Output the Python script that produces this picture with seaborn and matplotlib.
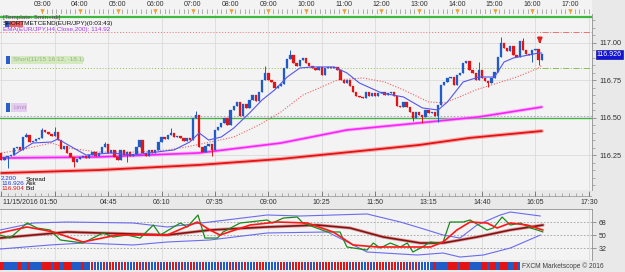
import numpy as np
import matplotlib
matplotlib.use('Agg')
import matplotlib.pyplot as plt
import seaborn as sns
from matplotlib.patches import Rectangle
import matplotlib.ticker as mticker

sns.set_theme(style='white')
plt.rcParams['font.family'] = ['Liberation Sans', 'DejaVu Sans']

W, H = 625, 272

# EUR/JPY 5 min candles, 01:55 .. 16:15 (time in minutes after midnight)
first_open = 116.267
closes = [116.220, 116.240, 116.247, 116.253, 116.300, 116.307, 116.287, 116.373, 116.387, 116.340,
          116.347, 116.360, 116.367, 116.420, 116.407, 116.393, 116.380, 116.407, 116.353, 116.293,
          116.313, 116.267, 116.240, 116.207, 116.227, 116.240, 116.247, 116.233, 116.253, 116.273,
          116.247, 116.267, 116.307, 116.327, 116.267, 116.287, 116.240, 116.220, 116.287, 116.253,
          116.273, 116.247, 116.260, 116.307, 116.353, 116.267, 116.247, 116.287, 116.267, 116.287,
          116.340, 116.373, 116.360, 116.387, 116.400, 116.373, 116.380, 116.367, 116.347, 116.367,
          116.353, 116.500, 116.520, 116.307, 116.273, 116.313, 116.327, 116.287, 116.420, 116.440,
          116.467, 116.500, 116.453, 116.553, 116.580, 116.607, 116.513, 116.593, 116.567, 116.620,
          116.653, 116.613, 116.673, 116.753, 116.800, 116.753, 116.740, 116.700, 116.713, 116.727,
          116.833, 116.893, 116.920, 116.867, 116.847, 116.887, 116.900, 116.867, 116.847, 116.833,
          116.820, 116.840, 116.787, 116.833, 116.840, 116.833, 116.840, 116.820, 116.753, 116.733,
          116.753, 116.713, 116.673, 116.647, 116.640, 116.633, 116.673, 116.647, 116.667, 116.647,
          116.667, 116.673, 116.653, 116.667, 116.673, 116.647, 116.580, 116.573, 116.607, 116.573,
          116.540, 116.500, 116.540, 116.520, 116.507, 116.553, 116.533, 116.540, 116.513, 116.587,
          116.720, 116.740, 116.767, 116.773, 116.720, 116.787, 116.800, 116.867, 116.880, 116.820,
          116.800, 116.753, 116.820, 116.767, 116.747, 116.733, 116.767, 116.807, 116.907, 117.000,
          116.967, 116.947, 116.980, 116.920, 116.907, 117.013, 116.953, 116.927, 116.920, 116.953,
          116.960, 116.887, 116.926]
# long wicks (candle index: price)
wick_high = {8: 116.400, 13: 116.433, 17: 116.440, 33: 116.340, 54: 116.433, 62: 116.547, 84: 116.847,
             92: 116.953, 152: 116.873, 159: 117.040, 166: 117.033}
wick_low = {2: 116.167, 23: 116.173, 40: 116.207, 67: 116.247, 131: 116.480, 134: 116.467, 139: 116.473,
            155: 116.707, 169: 116.873, 171: 116.853}

# moving averages on the price panel
fast_t = [135, 165, 195, 205, 230, 250, 290, 325, 350, 390, 415, 430, 445, 465, 485, 510, 530, 550,
          570, 590, 610, 645, 665, 685, 720, 755, 785, 810, 825, 850, 875, 900, 915, 930, 970, 975]
fast_ma = [116.253, 116.333, 116.340, 116.360, 116.300, 116.253, 116.267, 116.253, 116.267, 116.287,
           116.340, 116.400, 116.353, 116.373, 116.433, 116.533, 116.620, 116.687, 116.773, 116.833,
           116.840, 116.840, 116.800, 116.733, 116.667, 116.640, 116.567, 116.553, 116.607, 116.740,
           116.773, 116.773, 116.873, 116.900, 116.933, 116.933]
slow_t = [115, 145, 195, 220, 270, 335, 380, 410, 440, 485, 525, 560, 595, 650, 690, 725, 755, 795,
          820, 840, 870, 905, 935, 970, 975]
slow_ma = [116.267, 116.287, 116.333, 116.300, 116.273, 116.273, 116.287, 116.307, 116.333, 116.373,
           116.453, 116.540, 116.653, 116.753, 116.767, 116.740, 116.687, 116.607, 116.600, 116.633,
           116.687, 116.733, 116.773, 116.833, 116.853]
ema_h1_t = [115, 270, 430, 560, 665, 780, 875, 975]
ema_h1 = [116.233, 116.240, 116.267, 116.333, 116.420, 116.467, 116.507, 116.573]
ema_h4_t = [115, 270, 430, 560, 670, 780, 860, 975]
ema_h4 = [116.133, 116.153, 116.187, 116.227, 116.273, 116.320, 116.367, 116.413]

# order levels
level_top = 117.173
level_stop = 117.073
level_entry = 116.833
level_limit = 116.513
level_green = 116.500
ask, bid, spread = 116.926, 116.904, 2.200

# TDI panel
rsi_t = [113, 129, 156, 172, 193, 209, 245, 277, 293, 315, 336, 357, 368, 400, 411, 428, 439, 459, 468, 495,
         538, 546, 564, 586, 595, 634, 654, 665, 697, 707, 718, 734, 750, 761, 770, 782, 798, 809, 818, 829,
         850, 861, 888, 898, 912, 925, 941, 957, 968, 977]
rsi = [50.0, 45.8, 66.6, 59.7, 56.9, 43.1, 38.9, 52.8, 47.2, 50.0, 45.8, 63.8, 50.0, 66.6, 61.1, 77.7, 45.8,
       45.8, 54.2, 66.6, 70.8, 66.6, 73.5, 74.9, 66.6, 54.2, 54.2, 33.4, 29.2, 38.9, 32.0, 38.9, 33.4, 38.9,
       26.5, 32.0, 40.3, 38.9, 40.3, 68.0, 68.0, 70.8, 56.9, 59.7, 74.9, 63.8, 66.6, 59.7, 56.9, 54.2]
sig_t = [113, 156, 198, 245, 299, 379, 427, 447, 463, 511, 554, 602, 643, 675, 713, 750, 782, 798, 818, 840,
         861, 888, 904, 925, 952, 977]
sig = [52.8, 61.1, 54.2, 40.3, 50.0, 50.0, 68.0, 56.9, 50.0, 63.8, 68.0, 66.6, 54.2, 36.2, 33.4, 33.4, 33.4,
       33.4, 40.3, 56.9, 68.0, 66.6, 59.7, 66.6, 63.8, 56.9]
base_t = [113, 220, 272, 379, 447, 538, 618, 670, 723, 782, 818, 872, 925, 977]
base = [45.8, 54.2, 52.8, 50.0, 56.9, 61.1, 63.8, 59.7, 47.2, 38.9, 38.9, 47.2, 56.9, 63.8]
up_t = [113, 166, 220, 325, 379, 447, 538, 591, 697, 750, 782, 818, 845, 872, 909, 925, 973]
up_band = [56.9, 66.6, 68.0, 66.6, 61.1, 68.0, 77.7, 76.3, 79.1, 68.0, 59.7, 50.0, 45.8, 63.8, 77.7, 81.8, 76.3]
lo_t = [113, 193, 245, 325, 379, 447, 538, 634, 697, 777, 818, 845, 882, 925, 973]
lo_band = [30.6, 36.2, 38.9, 36.2, 40.3, 43.1, 52.8, 54.2, 26.5, 22.3, 25.1, 19.5, 22.3, 32.0, 50.0]
tdi_levels = [32, 50, 68]

bottom_labels = ['04:45', '06:10', '07:35', '09:00', '10:25', '11:50', '13:15', '14:40', '16:05', '17:30']

BG = '#e9e9e9'
PANEL = '#f3f3f3'
GRID = '#dadada'
BLUE = '#1f5cc8'
RED = '#e41414'
T0, T1 = 113, 1055

fig = plt.figure(figsize=(W / 100, H / 100), dpi=100, facecolor=BG)


def px_axes(x0, y0, x1, y1):
    a = fig.add_axes([x0 / W, 1 - y1 / H, (x1 - x0) / W, (y1 - y0) / H])
    a.set_facecolor(PANEL)
    for s in a.spines.values():
        s.set_visible(False)
    return a


def ftext(x, y, s, **kw):
    kw.setdefault('fontsize', 4.6)
    kw.setdefault('va', 'center')
    fig.text(x / W, 1 - y / H, s, **kw)


def frect(x0, y0, x1, y1, color):
    fig.patches.append(Rectangle((x0 / W, 1 - y1 / H), (x1 - x0) / W, (y1 - y0) / H,
                                 transform=fig.transFigure, fc=color, ec='none'))


grid_t = [115 + 85 * k for k in range(12)]

# ---- price panel
ax = px_axes(0, 14, 592, 190)
ax.set_xlim(T0, T1)
ax.set_ylim(116.02, 117.193)
for g in grid_t:
    ax.axvline(g, color=GRID, lw=0.6, zorder=0)
for g in [116.25, 116.5, 116.75, 117.0]:
    ax.axhline(g, color=GRID, lw=0.6, zorder=0)

t_c = 115 + 5 * np.arange(len(closes))
c = np.array(closes)
o = np.array([first_open] + closes[:-1])
hi = np.maximum(o, c)
lo = np.minimum(o, c)
for k, v in wick_high.items():
    hi[k] = v
for k, v in wick_low.items():
    lo[k] = v
cols = [BLUE if cc >= oo else RED for oo, cc in zip(o, c)]

last_t = t_c[-1]
ax.axhline(level_top, color='#3db83d', lw=1.6)
ax.hlines(level_stop, T0, last_t, color='#f07070', lw=0.7, ls=(0, (1, 2)))
ax.hlines(level_stop, last_t, T1, color='#f07070', lw=0.7, ls='-.')
ax.hlines(level_entry, T0, last_t, color='#8cbf50', lw=0.7, ls=(0, (1, 2)))
ax.hlines(level_entry, last_t, T1, color='#8cbf50', lw=0.7, ls='-.')
ax.axhline(level_limit, color='#c8a0dc', lw=0.8, ls=(0, (1.5, 1.5)))
ax.axhline(level_green, color='#3db83d', lw=1.0)

sns.lineplot(x=ema_h4_t, y=ema_h4, ax=ax, color='#f08080', lw=3.0, alpha=0.6)
sns.lineplot(x=ema_h4_t, y=ema_h4, ax=ax, color='#e81010', lw=1.3)
sns.lineplot(x=ema_h1_t, y=ema_h1, ax=ax, color='#f090f0', lw=2.6, alpha=0.6)
sns.lineplot(x=ema_h1_t, y=ema_h1, ax=ax, color='#ff20ff', lw=1.2)
sns.lineplot(x=slow_t, y=slow_ma, ax=ax, color='#f06060', lw=0.8, ls=(0, (1, 1.5)))

ax.vlines(t_c, lo, hi, colors=cols, lw=0.7, zorder=3)
ax.bar(t_c, np.maximum(np.abs(c - o), 0.003), bottom=np.minimum(o, c), width=3.7,
       color=cols, edgecolor=cols, lw=0.2, zorder=4)
sns.lineplot(x=fast_t, y=fast_ma, ax=ax, color='#5555ee', lw=0.8, zorder=5)

ax.annotate('', xy=(972, 116.997), xytext=(972, 117.03),
            arrowprops=dict(arrowstyle='-|>', color='#e02020', lw=1.6, mutation_scale=6))

ax.set_xticks([])
ax.yaxis.tick_right()
ax.set_yticks([116.25, 116.5, 116.75, 117.0])
ax.yaxis.set_major_formatter(mticker.FormatStrFormatter('%.2f'))
ax.yaxis.set_minor_locator(mticker.MultipleLocator(0.05))
ax.tick_params(axis='y', which='major', labelsize=5.3, length=3, width=0.5, color='#707070',
               labelcolor='#303030', pad=2, direction='out')
ax.tick_params(axis='y', which='minor', length=2, width=0.5, color='#909090', direction='out')
ax.spines['right'].set_visible(True)
ax.spines['right'].set_color('#909090')
ax.spines['right'].set_linewidth(0.6)
ax.text(1.008, ask, '116.926', transform=ax.get_yaxis_transform(), ha='left', va='center',
        fontsize=5, color='white',
        bbox=dict(boxstyle='square,pad=0.15', fc='#1414d8', ec='#000080', lw=0.4))

# ---- top time ruler
at = px_axes(0, 0, 592, 14)
at.set_xlim(T0, T1)
at.set_ylim(14, 0)
at.set_xticks([])
at.set_yticks([])
at.vlines(np.arange(180, T1, 7.5), 9, 13.5, color='#909090', lw=0.5)
at.axhline(13.5, color='#a0a0a0', lw=0.6)
hours = np.arange(180, T1, 60)
at.plot(hours, [11.2] * len(hours), 'v', color='#f0a030', ms=3.2, mec='none')
for hm in hours:
    at.text(hm, 4.2, f'{hm // 60:02d}:00', ha='center', va='center', fontsize=5, color='#303030')

# ---- bottom time ruler
ab = px_axes(0, 190, 592, 209)
ab.set_xlim(T0, T1)
ab.set_ylim(209, 190)
ab.set_xticks([])
ab.set_yticks([])
ab.set_facecolor(BG)
ab.axhline(195.5, color='#a0a0a0', lw=0.6)
ab.vlines(np.arange(115, T1, 85 / 8), 192.5, 195.5, color='#909090', lw=0.5)
ab.vlines(grid_t, 190.5, 195.5, color='#707070', lw=0.6)
ab.text(117, 203, '11/15/2016 01:50', ha='left', va='center', fontsize=5, color='#303030')
for g, lab in zip(grid_t[2:], bottom_labels):
    ab.text(g, 203, lab, ha='center', va='center', fontsize=5, color='#303030')

# ---- TDI panel
ai = px_axes(0, 209, 592, 260)
ai.set_xlim(T0, T1)
ai.set_ylim(15.4, 86)
for g in grid_t:
    ai.axvline(g, color=GRID, lw=0.6, zorder=0)
for lv in tdi_levels:
    ai.axhline(lv, color='#a0a0a0', lw=0.6, ls=(0, (2, 2)))
sns.lineplot(x=up_t, y=up_band, ax=ai, color='#6b6bf0', lw=0.8)
sns.lineplot(x=lo_t, y=lo_band, ax=ai, color='#6b6bf0', lw=0.8)
sns.lineplot(x=base_t, y=base, ax=ai, color='#c07070', lw=2.4, alpha=0.6)
sns.lineplot(x=base_t, y=base, ax=ai, color='#8a1010', lw=1.2)
sns.lineplot(x=rsi_t, y=rsi, ax=ai, color='#1a8a1a', lw=0.9)
sns.lineplot(x=sig_t, y=sig, ax=ai, color='#ff1818', lw=1.2)
ai.set_xticks([])
ai.yaxis.tick_right()
ai.set_yticks(tdi_levels)
ai.tick_params(axis='y', labelsize=5, length=3, width=0.5, color='#707070', labelcolor='#303030', pad=2)
for s in ['right', 'top']:
    ai.spines[s].set_visible(True)
    ai.spines[s].set_color('#909090')
    ai.spines[s].set_linewidth(0.6)
ai.set_ylabel('')

# ---- direction strip
ast = px_axes(0, 262, 520, 270)
ast.set_facecolor('#f8f8f8')
ast.bar(np.arange(len(closes)), 1, width=0.78, color=cols, lw=0)
ast.set_xlim(-0.5, len(closes) - 0.5)
ast.set_ylim(0, 1)
ast.set_xticks([])
ast.set_yticks([])
ftext(522, 266, 'FXCM Marketscope \u00a9 2016', fontsize=4.8, color='#404040')

# ---- overlay texts
ftext(3, 17.5, '[Template: 5min+tdi]', color='#505050')
frect(5, 21, 9, 27, '#2a5ec8')
frect(9, 21, 23, 27, '#f06060')
ftext(3, 24, 'SHORTMETCEND(EUR/JPY)(0:03:43)', color='#101010')
ftext(3, 29.5, 'EMA(EUR/JPY,H4,Close,200): 114.92', color='#a838e8')

frect(6, 56, 10, 64, '#2a5ec8')
frect(11, 56, 83, 64, '#d2eabc')
ftext(13, 60, 'Short(11/15 16:12, -18.1)', color='#9cae92')
frect(6, 103, 10, 112, '#2a5ec8')
frect(11, 103, 27, 112, '#e4cdee')
ftext(13, 107.5, 'Limit', color='#b08cc8')

ftext(1, 179, f'{spread:.3f}', color='#1a3ae0')
ftext(26, 179, 'Spread', color='#101010')
ftext(1, 183.5, f'{ask:.3f}', color='#1a3ae0')
ftext(26, 183.5, 'Ask', color='#101010')
ftext(1, 188, f'{bid:.3f}', color='#e01010')
ftext(26, 188, 'Bid', color='#101010')

fig.savefig('out.png', dpi=100, facecolor=BG)
